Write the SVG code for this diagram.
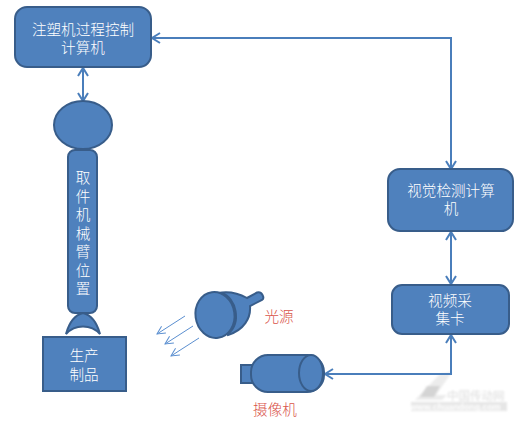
<svg xmlns="http://www.w3.org/2000/svg" width="526" height="421" viewBox="0 0 526 421">
<defs>
<marker id="ah" markerUnits="userSpaceOnUse" markerWidth="12" markerHeight="14" refX="10" refY="6" orient="auto-start-reverse" viewBox="0 0 12 12"><path d="M2 1L10 6L2 11" fill="none" stroke="#4a7ebb" stroke-width="2"/></marker>
<marker id="sh" markerUnits="userSpaceOnUse" markerWidth="10" markerHeight="10" refX="9" refY="5" orient="auto" viewBox="0 0 10 10"><path d="M1 1L9 5L1 9" fill="none" stroke="#5b8fd0" stroke-width="1"/></marker>
<filter id="b" x="-10%" y="-30%" width="120%" height="160%"><feGaussianBlur stdDeviation="0.8"/></filter>
</defs>
<style>
.s{fill:#4f81bd;stroke:#385d8a;stroke-width:2}
.a{fill:none;stroke:#385d8a;stroke-width:2}
.t{font-family:"Liberation Sans","Noto Sans CJK SC",sans-serif;font-size:14.6px;font-weight:300;fill:#fff;text-anchor:middle}
.r{font-family:"Liberation Sans","Noto Sans CJK SC",sans-serif;font-size:14.6px;font-weight:300;fill:#d9534a;text-anchor:middle}
.c{fill:none;stroke:#4a7ebb;stroke-width:2}
.l{fill:none;stroke:#5b8fd0;stroke-width:1;marker-end:url(#sh)}
</style>
<rect width="526" height="421" fill="#fff"/>
<g id="watermark" filter="url(#b)"><rect x="411" y="402" width="96" height="9" fill="#e6e6e6"/><path d="M415 400L440 374L452 372L436 395H447L442 400Z" fill="#ececec"/><path d="M420 397L427 386H440L434 397Z" fill="#d4d4d4"/><text x="447" y="400" font-family="'Liberation Sans','Noto Sans CJK SC',sans-serif" font-size="11.5" fill="#dcdcdc">中国传动网</text><text x="410" y="410" font-family="'Liberation Sans',sans-serif" font-size="8.800" font-weight="bold" fill="#fff">www.chuandong.com</text></g>
<g id="connectors">
<path class="c" d="M83 68V101" marker-start="url(#ah)" marker-end="url(#ah)"/>
<path class="c" d="M152 38H451V169" marker-start="url(#ah)" marker-end="url(#ah)"/>
<path class="c" d="M451 232V284" marker-start="url(#ah)" marker-end="url(#ah)"/>
<path class="c" d="M325 374H451V335" marker-start="url(#ah)" marker-end="url(#ah)"/>
<path class="l" d="M185 316L157 334"/>
<path class="l" d="M193 326L165 344"/>
<path class="l" d="M199 338L171 356"/>
</g>
<g id="n1"><rect class="s" x="15" y="7" width="136" height="60" rx="12"/><text class="t" x="83" y="35">注塑机过程控制</text><text class="t" x="83" y="53">计算机</text></g>
<g id="n2"><ellipse class="s" cx="83" cy="125" rx="29" ry="24"/></g>
<g id="n3"><rect class="s" x="68" y="150" width="29" height="163" rx="7"/><text class="t" x="83" y="183">取</text><text class="t" x="83" y="201.5">件</text><text class="t" x="83" y="220">机</text><text class="t" x="83" y="238.5">械</text><text class="t" x="83" y="257">臂</text><text class="t" x="83" y="275.5">位</text><text class="t" x="83" y="294">置</text></g>
<g id="n4"><path class="s" d="M66 334C69 323 75 315 83 313C91 315 97 323 100 334C91 324 75 324 66 334Z"/></g>
<g id="n5"><rect class="s" x="43" y="337" width="83" height="54"/><text class="t" x="84" y="361">生产</text><text class="t" x="84" y="380">制品</text></g>
<g id="n6"><path class="s" d="M218 293C228 291 238 293 247 298L257 292.500C262 291 265 298 262 300L250 306C251 318 244 330 228 335Z"/><path class="a" d="M222 293C236 298 242 322 228 334"/><ellipse class="s" cx="215" cy="315" rx="19.500" ry="23" transform="rotate(-8 215 315)"/></g>
<g id="n7"><rect class="s" x="241" y="365" width="12" height="18"/><rect class="s" x="251" y="355" width="73" height="37" rx="17"/><ellipse class="s" cx="311" cy="373" rx="12" ry="18"/></g>
<g id="n8"><rect class="s" x="388" y="169" width="125" height="62" rx="12"/><text class="t" x="451" y="196">视觉检测计算</text><text class="t" x="451" y="214">机</text></g>
<g id="n9"><rect class="s" x="392" y="285" width="117" height="49" rx="10"/><text class="t" x="450" y="306">视频采</text><text class="t" x="450" y="324">集卡</text></g>
<text class="r" x="279" y="322">光源</text>
<text class="r" x="275" y="415">摄像机</text>
</svg>
